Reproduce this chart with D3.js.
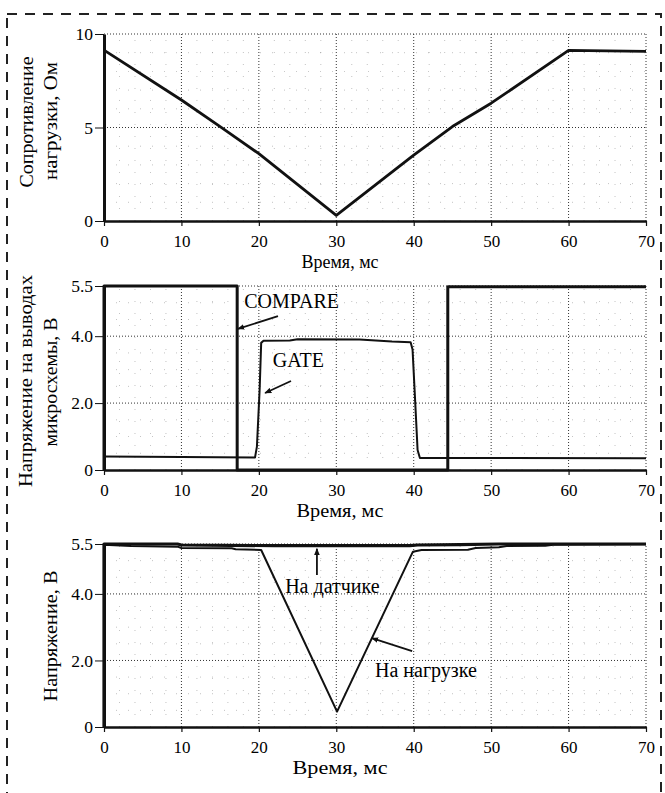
<!DOCTYPE html>
<html>
<head>
<meta charset="utf-8">
<script src="https://cdn.jsdelivr.net/npm/d3@7/dist/d3.min.js"></script>
<style>
  html, body { margin: 0; padding: 0; background: #fff; }
  svg { display: block; }
  text { font-family: "Liberation Serif", "Times New Roman", Tinos, "DejaVu Serif", serif; fill: #000; }
</style>
</head>
<body>
<svg id="chart" width="665" height="793"></svg>
<script>
// ---------------- DATA ----------------
const xTicks = [0, 10, 20, 30, 40, 50, 60, 70];
const xMinorTicks = [2,4,6,8,12,14,16,18,22,24,26,28,32,34,36,38,42,44,46,48,52,54,56,58,62,64,66,68];

const resTicks = [0, 5, 10];
const resTickLabels = ["0", "5", "10"];
const resMinorTicks = [1,2,3,4,6,7,8,9];

const voltTicks = [0, 2, 4, 5.5];
const voltTickLabels = ["0", "2.0", "4.0", "5.5"];
const voltMinorTicks = [0.5,1,1.5,2.5,3,3.5,4.5,5];

// Panel 1: load resistance, Ohm
const resTime = [0, 10, 15, 20, 30, 40, 45, 50, 60, 70];
const resOhm  = [9.14, 6.47, 5.05, 3.6, 0.3, 3.52, 5.05, 6.3, 9.12, 9.07];

// Panel 2: COMPARE and GATE outputs, V
const compareTime = [0, 0, 17.2, 17.2, 44.4, 44.4, 70];
const compareV    = [0, 5.5, 5.5, 0, 0, 5.48, 5.48];

const gateTime = [0, 10, 19.5, 19.75, 20.1, 20.3, 20.6, 24, 25, 33, 37.2, 39.6, 39.85, 40.2, 40.5, 40.8, 50, 70];
const gateV    = [0.40, 0.39, 0.37, 0.7, 2.4, 3.8, 3.86, 3.87, 3.91, 3.90, 3.84, 3.82, 3.6, 2.0, 0.6, 0.36, 0.36, 0.35];

// Panel 3: voltage on sensor and on load, V
const sensorTime = [0, 0, 9.5, 10, 22, 39.5, 40.5, 46, 51, 70];
const sensorV    = [0, 5.5, 5.5, 5.47, 5.45, 5.45, 5.47, 5.48, 5.5, 5.5];

const loadTime = [0, 0, 3.5, 9.5, 10, 16.5, 17, 20.3, 30.1, 39.9, 41, 47, 48, 51, 52, 57, 58, 70];
const loadV    = [0, 5.48, 5.44, 5.42, 5.38, 5.37, 5.34, 5.32, 0.46, 5.27, 5.32, 5.33, 5.38, 5.40, 5.44, 5.45, 5.48, 5.49];

// Annotation labels (data units)
const panel2Labels = [
  { text: "COMPARE", x: 18.1, y: 4.84, ax1: 22.47, ay1: 4.60, ax2: 17.3, ay2: 4.22 },
  { text: "GATE",    x: 21.8, y: 3.08, ax1: 24.15, ay1: 2.66, ax2: 20.8, ay2: 2.30 }
];
const panel3Labels = [
  { text: "На датчике",  x: 23.4, y: 4.03, ax1: 27.5, ay1: 4.57, ax2: 27.5, ay2: 5.36 },
  { text: "На нагрузке", x: 35.0, y: 1.50, ax1: 39.8, ay1: 2.28, ax2: 34.6, ay2: 2.67 }
];

const xTitle = "Время, мс";

// ---------------- DRAW ----------------
const svg = d3.select("#chart");

// dashed frame
svg.append("rect")
  .attr("x", 7).attr("y", 14).attr("width", 654).attr("height", 820)
  .attr("fill", "none").attr("stroke", "#222").attr("stroke-width", 2)
  .attr("stroke-dasharray", "10,8");

const defs = svg.append("defs");
defs.append("marker")
  .attr("id", "arrow").attr("viewBox", "0 0 10 10")
  .attr("refX", 9).attr("refY", 5)
  .attr("markerWidth", 7).attr("markerHeight", 7)
  .attr("markerUnits", "userSpaceOnUse")
  .attr("orient", "auto")
  .append("path").attr("d", "M0,1 L10,5 L0,9 Z").attr("fill", "#111");

const x = d3.scaleLinear().domain([0, 70]).range([104, 646]);

function panel(cfg) {
  const g = svg.append("g");
  const y = cfg.y;
  const [y0, y1] = y.range();  // bottom, top

  // minor sparse grid (scan texture)
  g.append("g").selectAll("line").data(xMinorTicks).join("line")
    .attr("x1", d => x(d)).attr("x2", d => x(d))
    .attr("y1", y0).attr("y2", y1)
    .attr("stroke", "#777").attr("stroke-width", 0.8)
    .attr("stroke-dasharray", "1,11").attr("opacity", 0.55);
  g.append("g").selectAll("line").data(cfg.minor).join("line")
    .attr("x1", x(0)).attr("x2", x(70))
    .attr("y1", d => y(d)).attr("y2", d => y(d))
    .attr("stroke", "#777").attr("stroke-width", 0.8)
    .attr("stroke-dasharray", "1,11").attr("opacity", 0.55);

  // major dotted grid
  g.append("g").selectAll("line").data(xTicks.filter(d => d > 0)).join("line")
    .attr("x1", d => x(d)).attr("x2", d => x(d))
    .attr("y1", y0).attr("y2", y1)
    .attr("stroke", "#333").attr("stroke-width", 1)
    .attr("stroke-dasharray", "1,2");
  g.append("g").selectAll("line").data(cfg.ticks.filter(d => d > 0)).join("line")
    .attr("x1", x(0)).attr("x2", x(70))
    .attr("y1", d => y(d)).attr("y2", d => y(d))
    .attr("stroke", "#333").attr("stroke-width", 1)
    .attr("stroke-dasharray", "1,2");

  // axes
  const xAxis = d3.axisBottom(x).tickValues(xTicks).tickFormat(d3.format("d"))
    .tickSize(5).tickPadding(9).tickSizeOuter(0);
  const gx = g.append("g").attr("transform", `translate(0,${y0})`).call(xAxis);
  gx.select(".domain").attr("stroke", "#111").attr("stroke-width", 2.6);
  gx.selectAll(".tick line").attr("stroke", "#111").attr("stroke-width", 1.2);
  gx.selectAll(".tick text").attr("font-size", 17).attr("fill", "#000");

  const yAxis = d3.axisLeft(y).tickValues(cfg.ticks)
    .tickFormat((d, i) => cfg.labels[i]).tickSize(9).tickPadding(2).tickSizeOuter(0);
  const gy = g.append("g").attr("transform", `translate(${x(0)},0)`).call(yAxis);
  gy.select(".domain").attr("stroke", "#111").attr("stroke-width", 3);
  gy.selectAll(".tick line").attr("stroke", "#111").attr("stroke-width", 1);
  gy.selectAll(".tick text").attr("font-size", 17.5).attr("fill", "#000");

  // series
  cfg.series.forEach(s => {
    const pts = s.t.map((t, i) => [t, s.v[i]]);
    g.append("path")
      .datum(pts)
      .attr("fill", "none")
      .attr("stroke", "#111")
      .attr("stroke-width", s.w)
      .attr("stroke-linejoin", "round")
      .attr("d", d3.line().x(d => x(d[0])).y(d => y(d[1])));
  });

  // annotations
  (cfg.notes || []).forEach(n => {
    g.append("line")
      .attr("x1", x(n.ax1)).attr("y1", y(n.ay1))
      .attr("x2", x(n.ax2)).attr("y2", y(n.ay2))
      .attr("stroke", "#111").attr("stroke-width", 1.8)
      .attr("marker-end", "url(#arrow)");
    g.append("text")
      .attr("x", x(n.x)).attr("y", y(n.y))
      .attr("font-size", 20)
      .text(n.text);
  });

  // x title
  g.append("text")
    .attr("x", 340).attr("y", y0 + 47)
    .attr("text-anchor", "middle")
    .attr("font-size", 18)
    .attr("textLength", cfg.xTitleLen).attr("lengthAdjust", "spacingAndGlyphs")
    .text(xTitle);

  // y titles
  cfg.yTitles.forEach(t => {
    g.append("text")
      .attr("transform", `translate(${t.cx},${t.cy}) rotate(-90)`)
      .attr("text-anchor", "middle")
      .attr("dy", "0.35em")
      .attr("font-size", 18.5)
      .attr("textLength", t.len).attr("lengthAdjust", "spacingAndGlyphs")
      .text(t.text);
  });
}

panel({
  y: d3.scaleLinear().domain([0, 10]).range([221, 34]),
  ticks: resTicks, labels: resTickLabels, minor: resMinorTicks,
  series: [{ t: resTime, v: resOhm, w: 2.8 }],
  xTitleLen: 77,
  yTitles: [
    { text: "Сопротивление", cx: 27, cy: 122, len: 131 },
    { text: "нагрузки,  Ом", cx: 51, cy: 121, len: 118 }
  ]
});

panel({
  y: d3.scaleLinear().domain([0, 5.5]).range([470, 286]),
  ticks: voltTicks, labels: voltTickLabels, minor: voltMinorTicks,
  series: [
    { t: gateTime, v: gateV, w: 2 },
    { t: compareTime, v: compareV, w: 3 }
  ],
  notes: panel2Labels,
  xTitleLen: 87,
  yTitles: [
    { text: "Напряжение на выводах", cx: 26, cy: 381, len: 212 },
    { text: "микросхемы, В", cx: 51, cy: 382, len: 129 }
  ]
});

panel({
  y: d3.scaleLinear().domain([0, 5.5]).range([727, 544]),
  ticks: voltTicks, labels: voltTickLabels, minor: voltMinorTicks,
  series: [
    { t: loadTime, v: loadV, w: 2 },
    { t: sensorTime, v: sensorV, w: 3.2 }
  ],
  notes: panel3Labels,
  xTitleLen: 95,
  yTitles: [
    { text: "Напряжение, В", cx: 51, cy: 636, len: 131 }
  ]
});
</script>
</body>
</html>
